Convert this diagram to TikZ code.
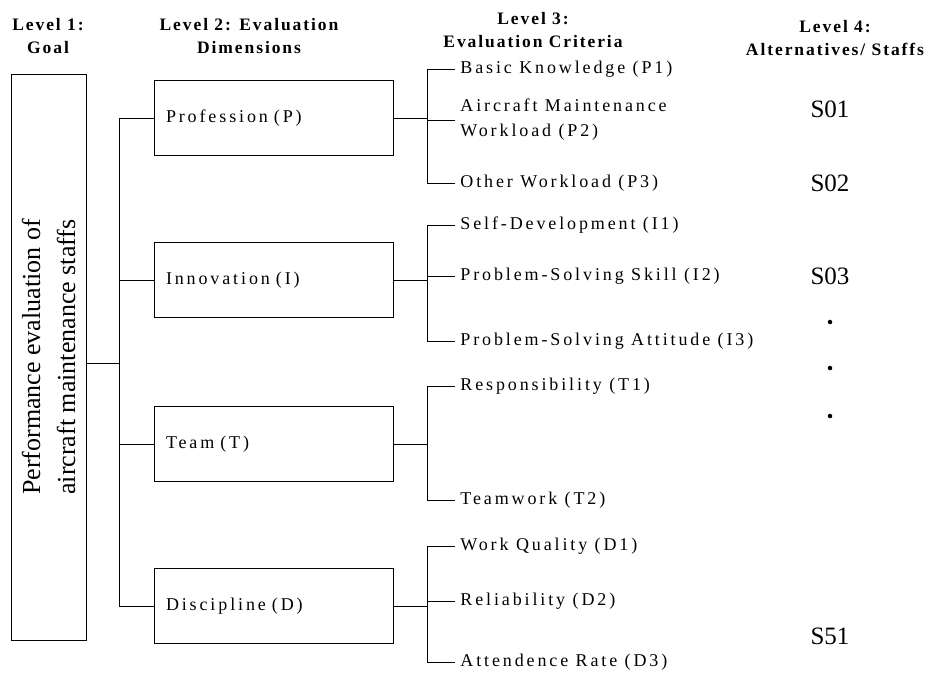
\documentclass[tikz,border=0pt]{standalone}
\usepackage{fontspec}
\setmainfont{Liberation Serif}
\newfontfamily\critfont{Liberation Serif}[LetterSpace=16]
\newfontfamily\headfont{Liberation Serif}[LetterSpace=11]

\begin{document}
\begin{tikzpicture}[x=1pt, y=-1pt, line width=0.9pt,
		dimbox/.style={draw, minimum width=239pt, minimum height=75pt, inner sep=12pt,
			text width=215pt, align=left, font=\critfont\fontsize{18}{22}\selectfont},
		crit/.style={anchor=west, inner sep=5pt, align=left, font=\critfont\fontsize{18}{25}\selectfont},
		head/.style={align=center, font=\headfont\bfseries\fontsize{17.5}{23}\selectfont},
		staff/.style={font=\fontsize{25}{25}\selectfont},
		dot/.style={circle, fill=black, inner sep=1.6pt}]
		
		\useasboundingbox (0,0) rectangle (930,673);
		
		% Level headings
		\node[head] (lev1) at (48,36) {Level 1:\\Goal};
		\node[head] (lev2) at (249,36) {Level 2: Evaluation\\Dimensions};
		\node[head] (lev3) at (533,30) {Level 3:\\Evaluation Criteria};
		\node[head] (lev4) at (835,38) {Level 4:\\Alternatives/ Staffs};
		
		% Goal (level 1)
		\node[draw, rotate=90, minimum width=566pt, minimum height=75pt, align=center,
			font=\fontsize{26}{35}\selectfont] (goal) at (48.5,357)
			{Performance evaluation of\\aircraft maintenance staffs};
		
		% Evaluation dimensions (level 2)
		\node[dimbox] (P) at (273.5,118) {Profession (P)};
		\node[dimbox] (I) at (273.5,280) {Innovation (I)};
		\node[dimbox] (T) at (273.5,444) {Team (T)};
		\node[dimbox] (D) at (273.5,606) {Discipline (D)};
		
		% Goal to dimensions
		\coordinate (trunk) at (120,363);
		\draw (goal.south |- trunk) -- (trunk);
		\draw (P.west) -- ++(-34,0) |- (D.west);
		\draw (I.west) -- ++(-34,0);
		\draw (T.west) -- ++(-34,0);
		
		% Evaluation criteria (level 3)
		\foreach \name/\ypos/\txt in {P1/69/{Basic Knowledge (P1)},
				P2/120/{Aircraft Maintenance\\Workload (P2)},
				P3/183/{Other Workload (P3)},
				I1/225/{Self-Development (I1)},
				I2/276/{Problem-Solving Skill (I2)},
				I3/341/{Problem-Solving Attitude (I3)},
				T1/386/{Responsibility (T1)},
				T2/500/{Teamwork (T2)},
				D1/546/{Work Quality (D1)},
				D2/601/{Reliability (D2)},
				D3/662/{Attendence Rate (D3)}} {
			\node[crit] (\name) at (455,\ypos) {\txt};
		}
		
		% Brackets from dimensions to criteria
		\foreach \d/\first/\last in {P/P1/P3, I/I1/I3, T/T1/T2, D/D1/D3} {
			\draw (\first.west) -- ++(-28,0) |- (\last.west);
			\draw (\d.east) -- ++(34,0);
		}
		\foreach \mid in {P2, I2, D2} {
			\draw (\mid.west) -- ++(-28,0);
		}
		
		% Alternatives (level 4)
		\node[staff] (S01) at (830,109) {S01};
		\node[staff] (S02) at (830,183) {S02};
		\node[staff] (S03) at (830,276) {S03};
		\node[dot] (dot1) at (830,322) {};
		\node[dot] (dot2) at (830,368) {};
		\node[dot] (dot3) at (830,416) {};
		\node[staff] (S51) at (830,636) {S51};
		
	\end{tikzpicture}
\end{document}
